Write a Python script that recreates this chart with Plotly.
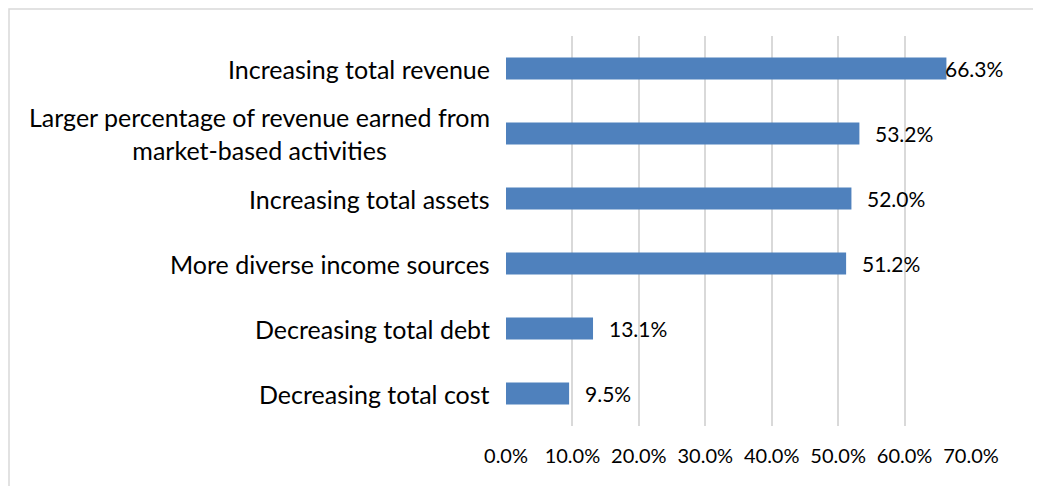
import plotly.graph_objects as go

categories = ["Increasing total revenue",
              "Larger percentage of revenue earned from<br>market-based activities",
              "Increasing total assets",
              "More diverse income sources",
              "Decreasing total debt",
              "Decreasing total cost"]
values = [66.3, 53.2, 52.0, 51.2, 13.1, 9.5]
labels = ["66.3%", "53.2%", "52.0%", "51.2%", "13.1%", "9.5%"]
tick_vals = [0, 10, 20, 30, 40, 50, 60, 70]
tick_text = ["0.0%", "10.0%", "20.0%", "30.0%", "40.0%", "50.0%", "60.0%", "70.0%"]

FONT = "Lato"
FS_CAT = 25
FS_NUM = 20

fig = go.Figure()
fig.add_trace(go.Bar(
    y=categories, x=values, orientation="h",
    marker=dict(color="#4F81BD", line=dict(width=0)),
    width=0.34,
))

for i, (c, v, t) in enumerate(zip(categories, values, labels)):
    fig.add_annotation(x=v, y=c, xref="x", yref="y", text=t, showarrow=False,
                       xanchor="left", xshift=(-3 if i == 0 else 14),
                       font=dict(family=FONT, size=FS_NUM + 1, color="#000000"))
    fig.add_annotation(x=0, y=c, xref="paper", yref="y", text=c, showarrow=False,
                       xanchor="right", align="center", xshift=-14,
                       font=dict(family=FONT, size=FS_CAT, color="#000000"))

# the page body has an 8px margin, so the figure is sized to fit the window
W, H = 1033, 478
L, R, T, B = 498, 70, 28, 60
pw, ph = W - L - R, H - T - B
# chart border (top and left edges visible)
fig.add_shape(type="rect", xref="paper", yref="paper",
              x0=(1 - L) / pw, x1=(W + 10 - L) / pw,
              y0=-(B + 10) / ph, y1=(H - B - 1) / ph,
              line=dict(color="#D9D9D9", width=1.5), layer="below")

fig.update_layout(
    width=W, height=H,
    margin=dict(l=L, r=R, t=T, b=B),
    plot_bgcolor="white", paper_bgcolor="white",
    showlegend=False,
    xaxis=dict(range=[0, 70], tickvals=tick_vals, ticktext=tick_text,
               showgrid=True, gridcolor="#D9D9D9", gridwidth=1.5,
               zeroline=False, showline=False, ticks="",
               tickfont=dict(family=FONT, size=FS_NUM, color="#000000"),
               fixedrange=True, automargin=False),
    yaxis=dict(autorange="reversed", showticklabels=False, ticks="",
               showgrid=False, zeroline=False, showline=False, fixedrange=True,
               automargin=False),
)
fig.update_xaxes(ticklabelstandoff=16)
fig.write_html("out.html")
